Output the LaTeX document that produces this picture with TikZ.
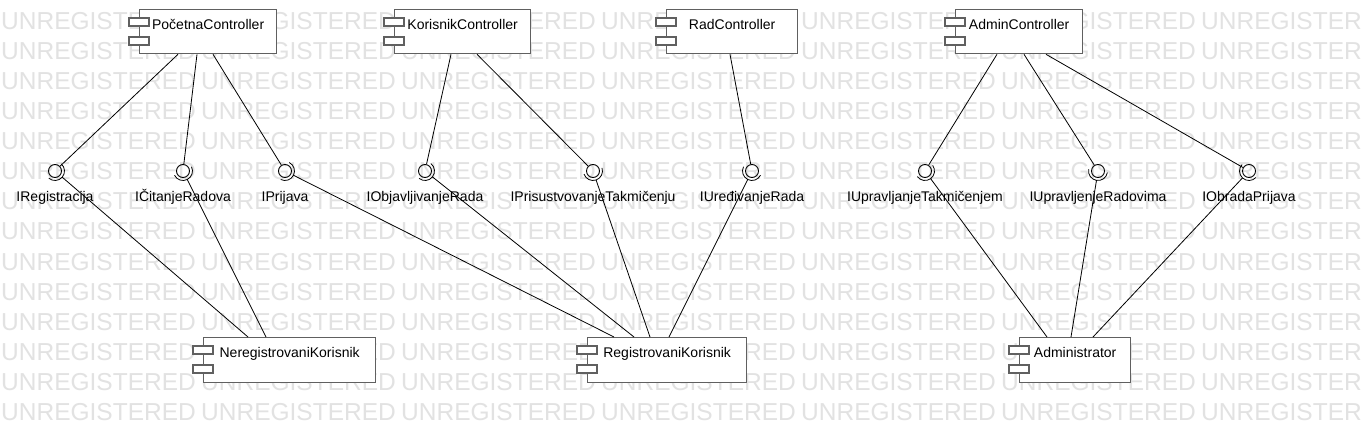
\documentclass[tikz,border=0pt]{standalone}
\usepackage{fontspec}
\setmainfont{Liberation Sans}
\usetikzlibrary{calc}
\definecolor{boxgray}{RGB}{96,96,96}
\definecolor{wmgray}{RGB}{226,226,226}
% name, x, y, width, height, text
\newcommand\umlcomp[6]{%
  \node[comp, minimum width=#4pt, text depth=#5pt-20pt] (#1) at (#2,#3) {#6};
  \draw[port] ($(#1.north west)+(-10,9)$) rectangle ++(20,8);
  \draw[port] ($(#1.north west)+(-10,28)$) rectangle ++(20,8);
}
% name, x, label
\newcommand\umliface[3]{%
  \node[ball] (#1) at (#2,171) {};
  \node[ilabel] (#1-l) at (#2,201) {#3};
}
% interface name, target coordinate name
\newcommand\sockline[2]{%
  \draw[conn] let \p1=($(#2)-(#1.center)$), \n1={atan2(\y1,\x1)} in
    ([shift={(\n1-90:9.5pt)}]#1.center) arc[start angle=\n1-90, end angle=\n1+90, radius=9.5pt]
    ([shift={(\n1:9.5pt)}]#1.center) -- (#2);
}
\begin{document}
\begin{tikzpicture}[x=1pt,y=-1pt,
  comp/.style={draw=boxgray, line width=1.3pt, fill=white, anchor=north west, inner sep=0pt,
    text height=20pt, font=\fontsize{14}{16}\selectfont},
  port/.style={draw=boxgray, line width=1.3pt, fill=white},
  ball/.style={circle, draw=black, line width=0.9pt, minimum size=13pt, inner sep=0pt},
  ilabel/.style={anchor=base, inner sep=0pt, font=\fontsize{14}{16}\selectfont},
  conn/.style={draw=black, line width=0.8pt},
  wm/.style={anchor=base west, inner sep=0pt, text=wmgray, font=\fontsize{24.5}{26}\selectfont}]
\useasboundingbox (0,0) rectangle (1362,422);
\fill[white] (0,0) rectangle (1362,422);
% watermark
\foreach \r in {0,...,13} {
  \foreach \c in {0,...,6} {
    \node[wm] (wm-\r-\c) at (\c*200+1, 30+\r*30) {UNREGISTERED};
  }
}
% components
\umlcomp{pc}{139}{9}{137}{44}{PočetnaController}
\umlcomp{kc}{394}{9}{136}{44}{KorisnikController}
\umlcomp{rc}{666}{9}{131}{44}{RadController}
\umlcomp{ac}{955}{9}{127}{44}{AdminController}
\umlcomp{nk}{203}{337}{172}{45}{NeregistrovaniKorisnik}
\umlcomp{rk}{587}{337}{159}{45}{RegistrovaniKorisnik}
\umlcomp{ad}{1019}{337}{111}{45}{Administrator}
% interfaces
\umliface{i1}{55}{IRegistracija}
\umliface{i2}{183}{IČitanjeRadova}
\umliface{i3}{285}{IPrijava}
\umliface{i4}{425}{IObjavljivanjeRada}
\umliface{i5}{593}{IPrisustvovanjeTakmičenju}
\umliface{i6}{752}{IUređivanjeRada}
\umliface{i7}{925}{IUpravljanjeTakmičenjem}
\umliface{i8}{1098}{IUpravljenjeRadovima}
\umliface{i9}{1249}{IObradaPrijava}
% connector end points on the controllers
\coordinate (pc-1) at ($(pc.south west)+(39,0)$);
\coordinate (pc-2) at ($(pc.south west)+(58,0)$);
\coordinate (pc-3) at ($(pc.south west)+(74,0)$);
\coordinate (kc-1) at ($(kc.south west)+(57,0)$);
\coordinate (kc-2) at ($(kc.south west)+(83,0)$);
\coordinate (rc-1) at ($(rc.south west)+(64,0)$);
\coordinate (ac-1) at ($(ac.south west)+(42,0)$);
\coordinate (ac-2) at ($(ac.south west)+(69,0)$);
\coordinate (ac-3) at ($(ac.south west)+(91,0)$);
% connector end points on the users
\coordinate (nk-1) at ($(nk.north west)+(45,0)$);
\coordinate (nk-2) at ($(nk.north west)+(63,0)$);
\coordinate (rk-1) at ($(rk.north west)+(27,0)$);
\coordinate (rk-2) at ($(rk.north west)+(47,0)$);
\coordinate (rk-3) at ($(rk.north west)+(63,0)$);
\coordinate (rk-4) at ($(rk.north west)+(82,0)$);
\coordinate (ad-1) at ($(ad.north west)+(28,0)$);
\coordinate (ad-2) at ($(ad.north west)+(52,0)$);
\coordinate (ad-3) at ($(ad.north west)+(74,0)$);
% provided interfaces (ball)
\draw[conn] (pc-1) -- (i1);
\draw[conn] (pc-2) -- (i2);
\draw[conn] (pc-3) -- (i3);
\draw[conn] (kc-1) -- (i4);
\draw[conn] (kc-2) -- (i5);
\draw[conn] (rc-1) -- (i6);
\draw[conn] (ac-1) -- (i7);
\draw[conn] (ac-2) -- (i8);
\draw[conn] (ac-3) -- (i9);
% required interfaces (socket)
\sockline{i1}{nk-1}
\sockline{i2}{nk-2}
\sockline{i3}{rk-1}
\sockline{i4}{rk-2}
\sockline{i5}{rk-3}
\sockline{i6}{rk-4}
\sockline{i7}{ad-1}
\sockline{i8}{ad-2}
\sockline{i9}{ad-3}
\end{tikzpicture}
\end{document}
